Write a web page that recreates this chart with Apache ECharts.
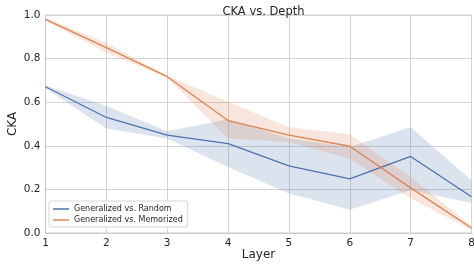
<!DOCTYPE html>
<html>
<head>
<meta charset="utf-8">
<script src="https://cdn.jsdelivr.net/npm/echarts@6/dist/echarts.min.js"></script>
<style>html,body{margin:0;padding:0;background:#fff;}#c{width:474px;height:266px;}</style>
</head>
<body>
<div id="c"></div>
<script>
var layers = [1, 2, 3, 4, 5, 6, 7, 8];
var randomMean  = [0.671, 0.530, 0.449, 0.410, 0.308, 0.248, 0.351, 0.166];
var randomLow   = [0.664, 0.479, 0.433, 0.303, 0.181, 0.107, 0.196, 0.138];
var randomHigh  = [0.678, 0.582, 0.467, 0.522, 0.433, 0.395, 0.485, 0.242];
var memMean     = [0.980, 0.850, 0.717, 0.516, 0.449, 0.398, 0.207, 0.023];
var memLow      = [0.974, 0.827, 0.713, 0.433, 0.418, 0.341, 0.158, 0.015];
var memHigh     = [0.986, 0.873, 0.721, 0.602, 0.485, 0.453, 0.257, 0.032];
var yTicks = [0, 0.2, 0.4, 0.6, 0.8, 1.0];

var BLUE = '#4c72b0', ORANGE = '#dd8452';
function pairs(xs, ys) { return xs.map(function (x, i) { return [x, ys[i]]; }); }

function band(lo, hi, color) {
  return {
    type: 'custom', silent: true, z: 1,
    data: [[layers[0], lo[0]]],
    renderItem: function (params, api) {
      var pts = [];
      for (var i = 0; i < layers.length; i++) pts.push(api.coord([layers[i], hi[i]]));
      for (var j = layers.length - 1; j >= 0; j--) pts.push(api.coord([layers[j], lo[j]]));
      return { type: 'polygon', shape: { points: pts },
               style: { fill: color, opacity: 0.2 } };
    }
  };
}

var chart = echarts.init(document.getElementById('c'), null, { renderer: 'canvas' });
chart.setOption({
  animation: false,
  backgroundColor: '#ffffff',
  textStyle: { fontFamily: 'DejaVu Sans' },
  title: { text: 'CKA vs. Depth', left: 258.5, textAlign: 'center', top: 1,
           textStyle: { fontSize: 11.5, fontWeight: 'normal', color: '#262626', fontFamily: 'DejaVu Sans' } },
  grid: { left: 45.5, right: 2.5, top: 15, bottom: 33, show: true, borderColor: '#cccccc', borderWidth: 1,
          outerBoundsMode: 'none', containLabel: false },
  legend: {
    data: ['Generalized vs. Random', 'Generalized vs. Memorized'],
    orient: 'vertical', left: 49, top: 201,
    backgroundColor: '#ffffff', borderColor: '#d5d5d5', borderWidth: 1, borderRadius: 2,
    padding: [4, 5, 3, 4], itemGap: 3, itemWidth: 16, itemHeight: 1.5, icon: 'rect',
    textStyle: { fontSize: 8, color: '#262626', fontFamily: 'DejaVu Sans' }
  },
  xAxis: {
    type: 'value', min: 1, max: 8, interval: 1,
    name: 'Layer', nameLocation: 'middle', nameGap: 16, nameMoveOverlap: false,
    nameTextStyle: { fontSize: 12, color: '#262626', fontFamily: 'DejaVu Sans' },
    axisLine: { show: true, lineStyle: { color: '#cccccc', width: 1.2 } },
    axisTick: { show: false },
    axisLabel: { fontSize: 10.5, color: '#262626', margin: 5, fontFamily: 'DejaVu Sans' },
    splitLine: { show: true, lineStyle: { color: '#d5d5d5', width: 1 } }
  },
  yAxis: {
    type: 'value', min: yTicks[0], max: yTicks[yTicks.length - 1], interval: 0.2,
    name: 'CKA', nameLocation: 'middle', nameGap: 27, nameRotate: 90, nameMoveOverlap: false,
    nameTextStyle: { fontSize: 12, color: '#262626', fontFamily: 'DejaVu Sans' },
    axisLine: { show: true, lineStyle: { color: '#cccccc', width: 1.2 } },
    axisTick: { show: false },
    axisLabel: { fontSize: 10.5, color: '#262626', margin: 5, fontFamily: 'DejaVu Sans',
                 formatter: function (v) { return v.toFixed(1); } },
    splitLine: { show: true, lineStyle: { color: '#d5d5d5', width: 1 } }
  },
  series: [
    band(randomLow, randomHigh, BLUE),
    band(memLow, memHigh, ORANGE),
    { name: 'Generalized vs. Random', type: 'line', data: pairs(layers, randomMean), symbol: 'none',
      color: BLUE, lineStyle: { color: BLUE, width: 1.3 }, z: 3 },
    { name: 'Generalized vs. Memorized', type: 'line', data: pairs(layers, memMean), symbol: 'none',
      color: ORANGE, lineStyle: { color: ORANGE, width: 1.3 }, z: 3 }
  ]
});
</script>
</body>
</html>
